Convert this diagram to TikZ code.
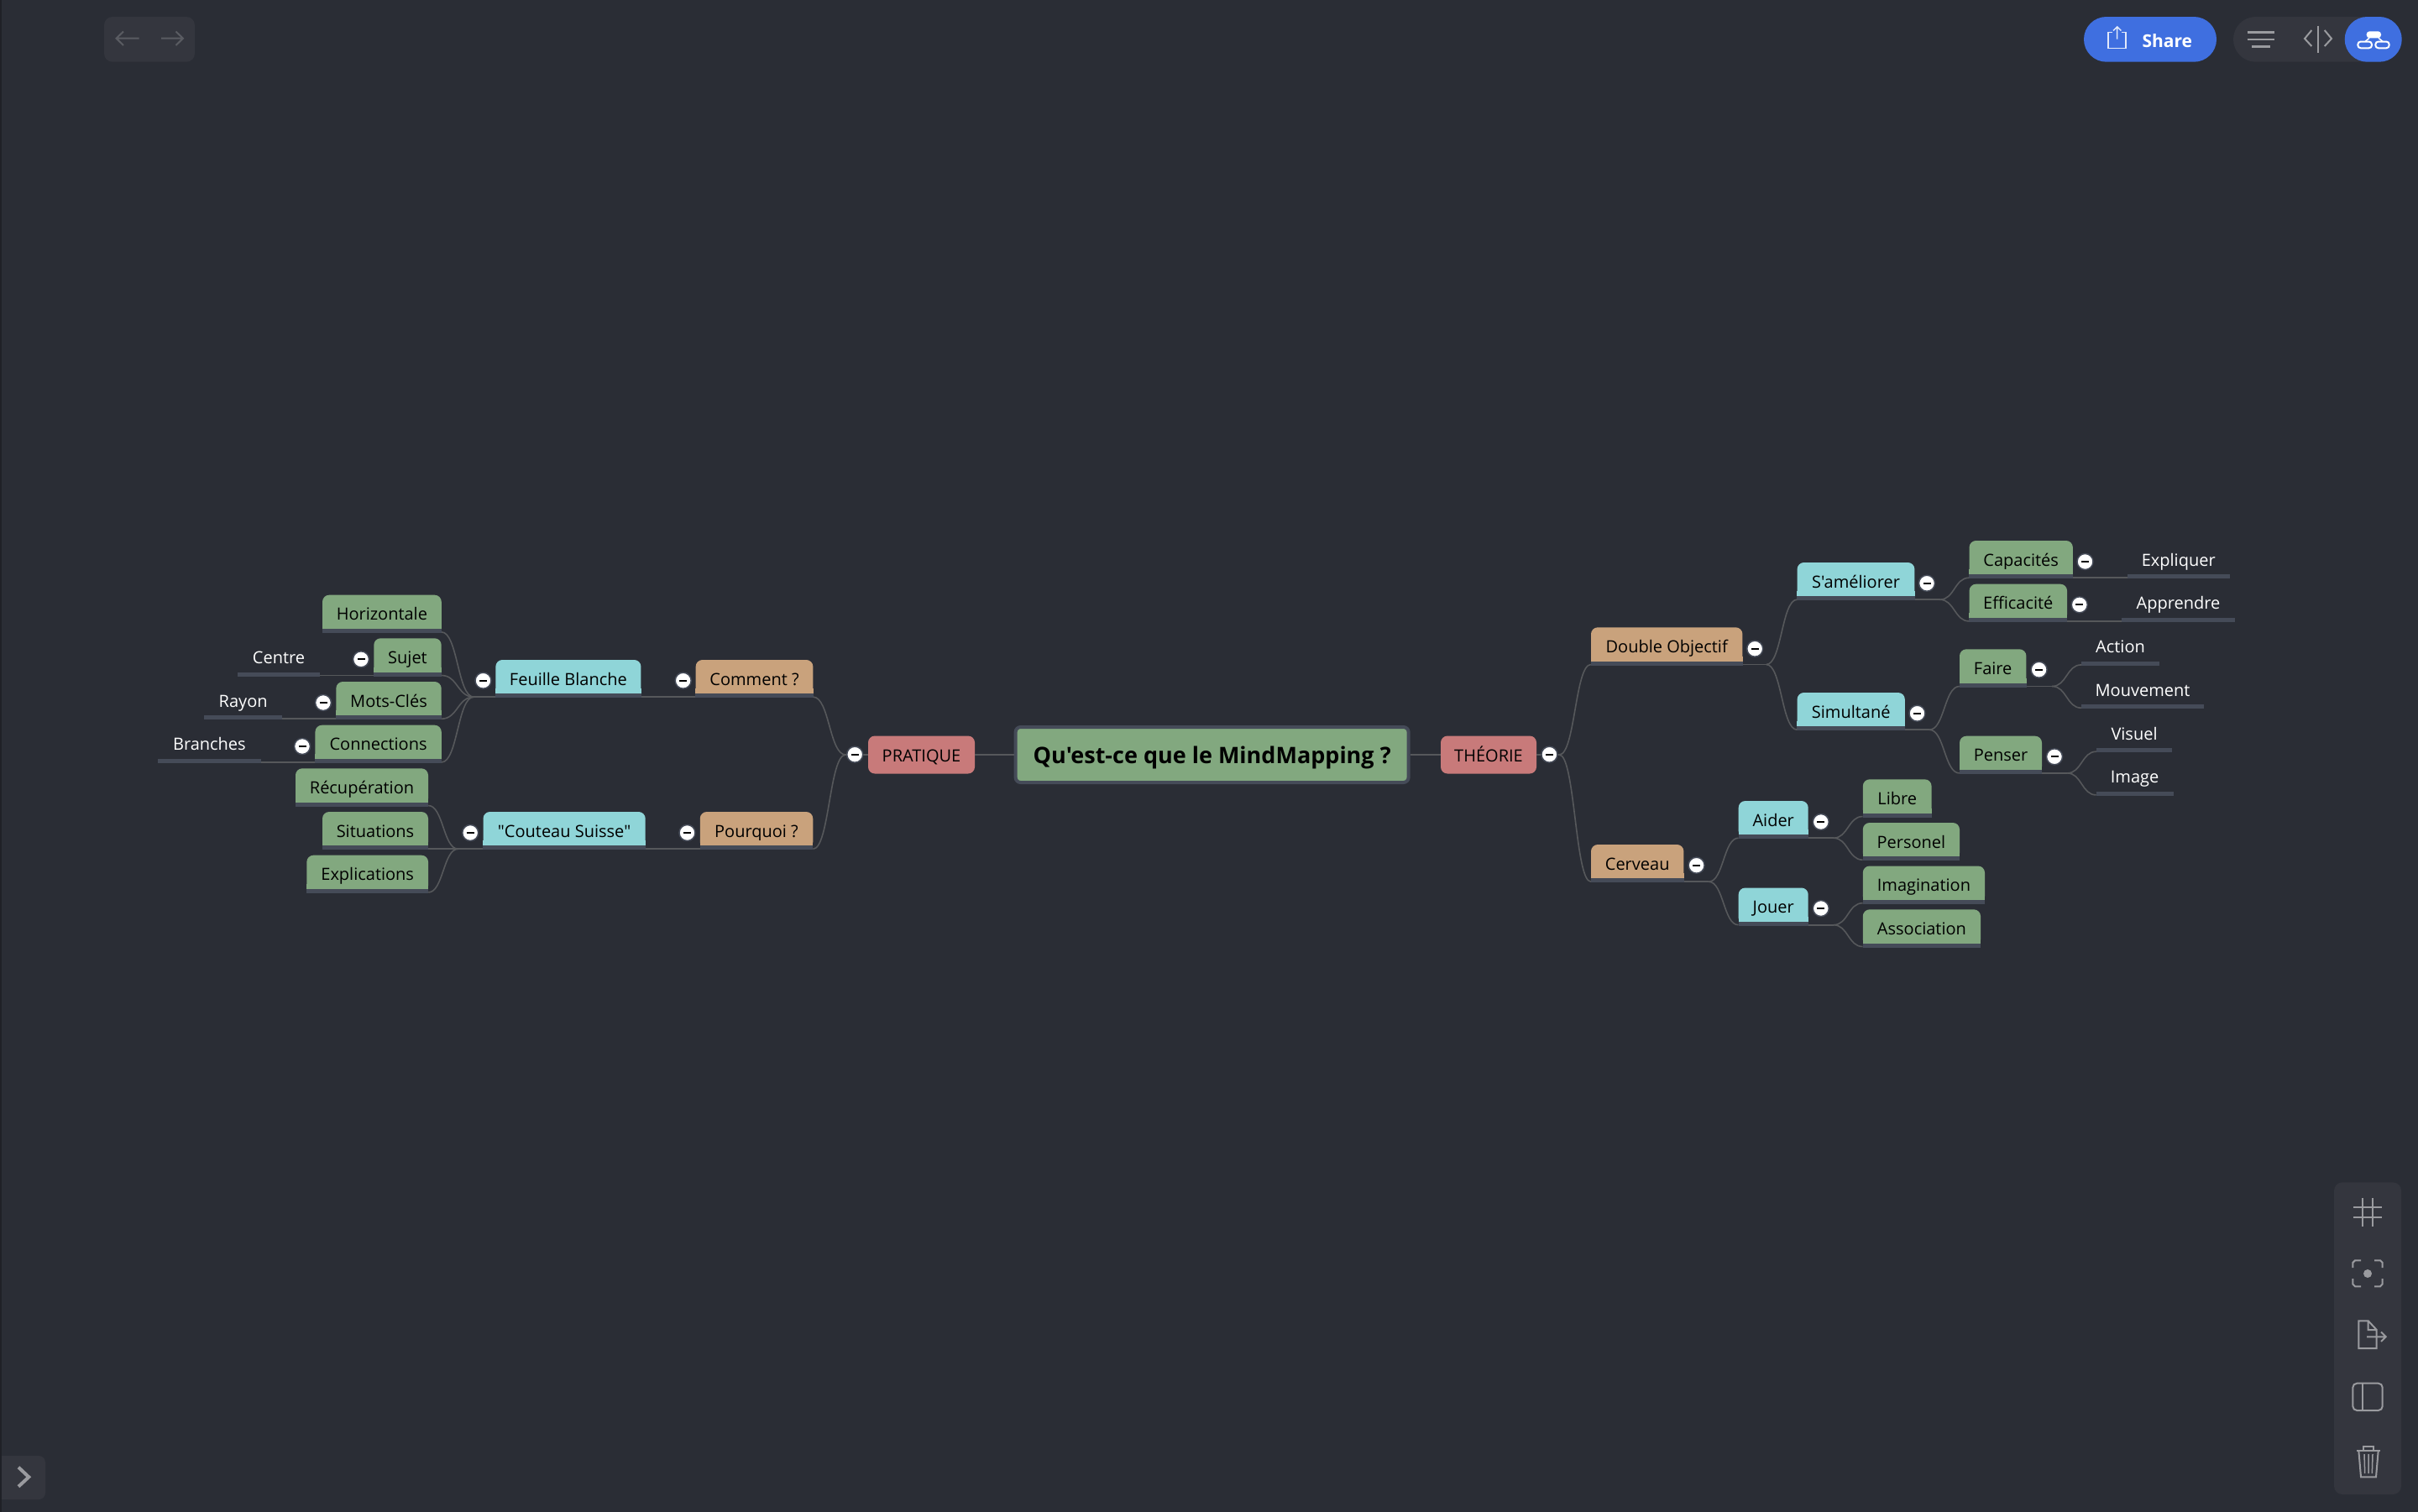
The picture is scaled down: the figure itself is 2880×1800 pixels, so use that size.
\documentclass[tikz,border=0pt]{standalone}
\usepackage{fontspec}
\setmainfont{Open Sans}[Ligatures=TeXOff]
\usetikzlibrary{calc}

\definecolor{pagebg}{HTML}{2A2D35}
\definecolor{edgebg}{HTML}{1F2127}
\definecolor{panelbg}{HTML}{34363E}
\definecolor{iconcol}{HTML}{9A9B9F}
\definecolor{dimcol}{HTML}{5A5C62}
\definecolor{sharecol}{HTML}{3F6FE0}
\definecolor{leafgreen}{HTML}{82A87F}
\definecolor{subblue}{HTML}{8FD5D8}
\definecolor{branchtan}{HTML}{C9A27C}
\definecolor{rootred}{HTML}{C87A7A}
\definecolor{stripcol}{HTML}{454B58}
\definecolor{linkcol}{HTML}{56585B}

\newcommand{\branchlink}[2]{%
  \path ($(#1)!0.5!(#2)$) coordinate (mid);
  \draw[link] (#1) .. controls (mid |- #1) and (mid |- #2) .. (#2);}

\begin{document}
\begin{tikzpicture}[x=1pt,y=-1pt,
    link/.style={draw=linkcol, line width=1.6pt},
    icon/.style={draw=iconcol, line width=2pt},
    dimicon/.style={draw=dimcol, line width=2pt},
    panel/.style={fill=panelbg, rounded corners=10pt},
    stripbox/.style={rectangle, inner sep=0pt, minimum height=44pt, text height=18pt, text depth=2pt,
      font=\fontsize{20}{24}\selectfont,
      append after command={([yshift=1.5pt]\tikzlastnode.south west) edge[draw=stripcol, line width=5pt] ([yshift=1.5pt]\tikzlastnode.south east)}},
    fillbox/.style={fill=#1, rounded corners=8pt,
      append after command={([yshift=5pt]\tikzlastnode.south west) edge[draw=#1, line width=10pt] ([yshift=5pt]\tikzlastnode.south east)},
      stripbox},
    leafbox/.style={fillbox=leafgreen},
    subbox/.style={fillbox=subblue},
    branchbox/.style={fillbox=branchtan},
    plainbox/.style={stripbox, text=white},
    rootbox/.style={rectangle, fill=rootred, rounded corners=8pt, inner sep=0pt, minimum height=45pt, text height=19pt, text depth=3pt,
      font=\fontsize{20}{24}\selectfont},
    minusbtn/.style={circle, fill=white, draw=stripcol, line width=1.5pt, inner sep=0pt, minimum size=19pt,
      path picture={\draw[black, line width=2pt] ([xshift=-4.5pt]path picture bounding box.center) -- ([xshift=4.5pt]path picture bounding box.center);}}]
  \useasboundingbox (0,0) rectangle (2880,1800);
  \fill[pagebg] (-5,-5) rectangle (2885,1805);
  \fill[edgebg] (-5,-5) rectangle (2,1805);

  % Define centre and main branches
  \node [rectangle, fill=leafgreen, draw=stripcol, line width=4pt, rounded corners=6pt, inner sep=0pt,
    minimum width=468pt, minimum height=66pt, text height=25pt, text depth=5pt,
    font=\bfseries\fontsize{27}{33}\selectfont] (root) at (1443.6,899) {Qu'est-ce que le MindMapping ?};
  \node [rootbox, minimum width=127pt] (pratique) at (1097.5,899) {PRATIQUE};
  \node [rootbox, minimum width=114pt] (theorie) at (1773,899) {THÉORIE};

  % Left side blocks
  \node [branchbox, minimum width=139.7pt] (comment) at (898.5,808) {Comment ?};
  \node [branchbox, minimum width=134.5pt] (pourquoi) at (901,989) {Pourquoi ?};
  \node [subbox, minimum width=173.1pt] (feuille) at (676.9,808) {Feuille Blanche};
  \node [subbox, minimum width=193.2pt] (couteau) at (672.1,989) {"Couteau Suisse"};
  \node [leafbox, minimum width=141.7pt] (horiz) at (454.9,730.7) {Horizontale};
  \node [leafbox, minimum width=80.4pt] (sujet) at (485.5,782.3) {Sujet};
  \node [leafbox, minimum width=125.4pt] (motscles) at (463,834) {Mots-Clés};
  \node [leafbox, minimum width=150.3pt] (connect) at (450.6,885.7) {Connections};
  \node [leafbox, minimum width=158pt] (recup) at (431,937.3) {Récupération};
  \node [leafbox, minimum width=126pt] (situ) at (447,989) {Situations};
  \node [leafbox, minimum width=144.7pt] (explic) at (437.7,1040.7) {Explications};
  \node [plainbox, minimum width=97.4pt] (centre) at (332,782.3) {Centre};
  \node [plainbox, minimum width=92.1pt] (rayon) at (289.7,834) {Rayon};
  \node [plainbox, minimum width=121.8pt] (branches) at (249.4,885.7) {Branches};

  % Right side blocks
  \node [branchbox, minimum width=180.4pt] (double) at (1985.2,769.3) {Double Objectif};
  \node [branchbox, minimum width=110.4pt] (cerveau) at (1950.2,1028) {Cerveau};
  \node [subbox, minimum width=139.8pt] (ameliorer) at (2210.5,692) {S'améliorer};
  \node [subbox, minimum width=128.2pt] (simul) at (2204.7,847) {Simultané};
  \node [subbox, minimum width=83pt] (aider) at (2112.2,976) {Aider};
  \node [subbox, minimum width=83pt] (jouer) at (2112.2,1079.5) {Jouer};
  \node [leafbox, minimum width=123.3pt] (capa) at (2407.2,666) {Capacités};
  \node [leafbox, minimum width=116.5pt] (effi) at (2403.8,717.7) {Efficacité};
  \node [leafbox, minimum width=79.4pt] (faire) at (2373.7,795.3) {Faire};
  \node [leafbox, minimum width=98pt] (penser) at (2383,898.7) {Penser};
  \node [leafbox, minimum width=81.7pt] (libre) at (2259.7,950.3) {Libre};
  \node [leafbox, minimum width=115.2pt] (perso) at (2276.4,1002) {Personel};
  \node [leafbox, minimum width=145.2pt] (imagin) at (2291.4,1053.5) {Imagination};
  \node [leafbox, minimum width=140.2pt] (assoc) at (2288.9,1105.3) {Association};
  \node [plainbox, minimum width=121.4pt] (expli) at (2594.7,666) {Expliquer};
  \node [plainbox, minimum width=135.2pt] (appr) at (2594.4,717.7) {Apprendre};
  \node [plainbox, minimum width=92.9pt] (action) at (2525.5,769.7) {Action};
  \node [plainbox, minimum width=146pt] (mouv) at (2552,821) {Mouvement};
  \node [plainbox, minimum width=90pt] (visuel) at (2542,873) {Visuel};
  \node [plainbox, minimum width=91.5pt] (image) at (2542.6,924.7) {Image};

  % Junctions where a branch splits
  \coordinate (pratiqueJ) at ([xshift=-26.6pt]pratique.west);
  \coordinate (theorieJ) at ([xshift=27pt]theorie.east);
  \coordinate (feuilleJ) at ([xshift=-25.9pt]feuille.south west);
  \coordinate (couteauJ) at ([xshift=-29.6pt]couteau.south west);
  \coordinate (doubleJ) at ([xshift=28.2pt]double.south east);
  \coordinate (cerveauJ) at ([xshift=29.6pt]cerveau.south east);
  \coordinate (ameliorerJ) at ([xshift=29.9pt]ameliorer.south east);
  \coordinate (simulJ) at ([xshift=29pt]simul.south east);
  \coordinate (aiderJ) at ([xshift=29.9pt]aider.south east);
  \coordinate (jouerJ) at ([xshift=29.9pt]jouer.south east);
  \coordinate (faireJ) at ([xshift=30.6pt]faire.south east);
  \coordinate (penserJ) at ([xshift=30pt]penser.south east);

  % Connect blocks
  \draw [link] (root.west) -- (pratique.east);
  \draw [link] (root.east) -- (theorie.west);
  \draw [link] (pratique.west) -- (pratiqueJ);
  \draw [link] (theorie.east) -- (theorieJ);
  \foreach \a/\b in {comment/feuille, pourquoi/couteau, sujet/centre, motscles/rayon, connect/branches}
    \draw [link] (\a.south west) -- (\b.south east);
  \foreach \a/\b in {capa/expli, effi/appr}
    \draw [link] (\a.south east) -- (\b.south west);
  \foreach \a in {feuille, couteau}
    \draw [link] (\a.south west) -- (\a J);
  \foreach \a in {double, cerveau, ameliorer, simul, aider, jouer, faire, penser}
    \draw [link] (\a.south east) -- (\a J);
  \foreach \a/\b in {pratiqueJ/comment, pratiqueJ/pourquoi, feuilleJ/horiz, feuilleJ/sujet, feuilleJ/motscles,
      feuilleJ/connect, couteauJ/recup, couteauJ/situ, couteauJ/explic}
    \branchlink{\a}{\b.south east};
  \foreach \a/\b in {theorieJ/double, theorieJ/cerveau, doubleJ/ameliorer, doubleJ/simul, cerveauJ/aider, cerveauJ/jouer,
      ameliorerJ/capa, ameliorerJ/effi, simulJ/faire, simulJ/penser, aiderJ/libre, aiderJ/perso, jouerJ/imagin, jouerJ/assoc,
      faireJ/action, faireJ/mouv, penserJ/visuel, penserJ/image}
    \branchlink{\a}{\b.south west};

  % Collapse buttons
  \foreach \n/\px/\py in {pratique/1018.2/898.7, theorie/1845.4/898.7, comment/813.7/810.7, pourquoi/818.5/992,
      feuille/575.5/810.7, couteau/560.2/992, sujet/430/785.3, motscles/385/837, connect/360/889,
      double/2090.2/772.7, cerveau/2020.6/1030.7, ameliorer/2295/694.7, simul/2283.5/849.7, aider/2168.8/979,
      jouer/2168.8/1082, capa/2483.5/669, effi/2476.8/720.3, faire/2428.6/797.7, penser/2447/901.3}
    \node [minusbtn] (\n btn) at (\px,\py) {};

  % Toolbar top left
  \fill [panel] (124,20) rectangle (232,73.7);
  \draw [dimicon] (165.7,45.7) -- (138,45.7) (147,37.5) -- (138.5,45.7) -- (147,54);
  \draw [dimicon] (192,45.7) -- (218,45.7) (209.5,37.5) -- (218,45.7) -- (209.5,54);

  % Toolbar top right
  \fill [sharecol, rounded corners=26.8pt] (2482,20) rectangle (2640,73.7);
  \node [text=white, inner sep=0pt, font=\bfseries\fontsize{21}{25}\selectfont] (share) at (2581.3,48.5) {Share};
  \draw [white!85!sharecol, line width=1.5pt] (2516,38.3) -- (2511,38.3) -- (2511,57.3) -- (2532,57.3) -- (2532,38.3) -- (2527,38.3);
  \draw [white!85!sharecol, line width=1.5pt] (2521.7,46.7) -- (2521.7,32) (2517,36.5) -- (2521.7,32) -- (2526.4,36.5);
  \fill [panelbg, rounded corners=26.8pt] (2660,20) rectangle (2860.7,73.7);
  \fill [sharecol, rounded corners=26.8pt] (2792.7,20) rectangle (2860.7,73.7);
  \draw [icon, line width=2.6pt] (2676.7,38.3) -- (2709.3,38.3) (2676.7,47) -- (2709.3,47) (2682,55.3) -- (2704,55.3);
  \draw [icon] (2761,30.7) -- (2761,62.7);
  \draw [icon] (2753.3,36) -- (2745,46) -- (2753.3,55) (2768.7,36) -- (2777,46) -- (2768.7,55);
  \fill [white, rounded corners=3.5pt] (2818.7,37.3) rectangle (2836,45.3);
  \draw [white, line width=2pt, rounded corners=3.5pt] (2808.3,49.5) rectangle (2825,57.3) (2829.3,49.5) rectangle (2845.7,57.3);
  \draw [white, line width=1.5pt] (2822,45.3) -- (2817,49.5) (2833,45.3) -- (2838,49.5);

  % Toolbar right
  \fill [panel] (2780,1408.3) rectangle (2860,1780);
  \draw [icon] (2814,1427.3) -- (2814,1460.7) (2826,1427.3) -- (2826,1460.7) (2803.3,1437.7) -- (2836.7,1437.7) (2803.3,1450) -- (2836.7,1450);
  \draw [icon] (2802.3,1510) -- (2802.3,1504) -- (2805,1501.3) -- (2812,1501.3) (2828,1501.3) -- (2835,1501.3) -- (2837.7,1504) -- (2837.7,1510);
  \draw [icon] (2802.3,1523) -- (2802.3,1529.5) -- (2805,1532.3) -- (2812,1532.3) (2828,1532.3) -- (2835,1532.3) -- (2837.7,1529.5) -- (2837.7,1523);
  \fill [iconcol] (2820,1517) circle (5pt);
  \draw [icon] (2830.7,1584) -- (2820.7,1573.3) -- (2809.3,1573.3) -- (2809.3,1606) -- (2830.7,1606) -- (2830.7,1584) -- (2820.7,1584) -- (2820.7,1573.3);
  \draw [icon] (2819,1592.3) -- (2841.7,1592.3) (2836,1586.5) -- (2841.7,1592.3) -- (2836,1598);
  \draw [icon, rounded corners=5pt] (2802.3,1647.7) rectangle (2837.7,1680);
  \draw [icon] (2813.7,1647.7) -- (2813.7,1680);
  \draw [icon] (2807.3,1727.7) -- (2835,1727.7) (2815.3,1727.7) -- (2815.3,1723) -- (2826.7,1723) -- (2826.7,1727.7);
  \draw [icon] (2809.3,1727.7) -- (2812,1759.3) -- (2830,1759.3) -- (2832.7,1727.7);
  \draw [icon, line width=1.5pt] (2816,1732) -- (2816.7,1755) (2821,1732) -- (2821,1755) (2826,1732) -- (2825.3,1755);

  % Button bottom left
  \fill [panelbg, rounded corners=8pt] (2,1734) rectangle (54,1786);
  \fill [panelbg] (2,1734) rectangle (12,1786);
  \draw [icon, line width=4pt] (22,1747.7) -- (34.3,1759.3) -- (22,1770.7);
\end{tikzpicture}
\end{document}
